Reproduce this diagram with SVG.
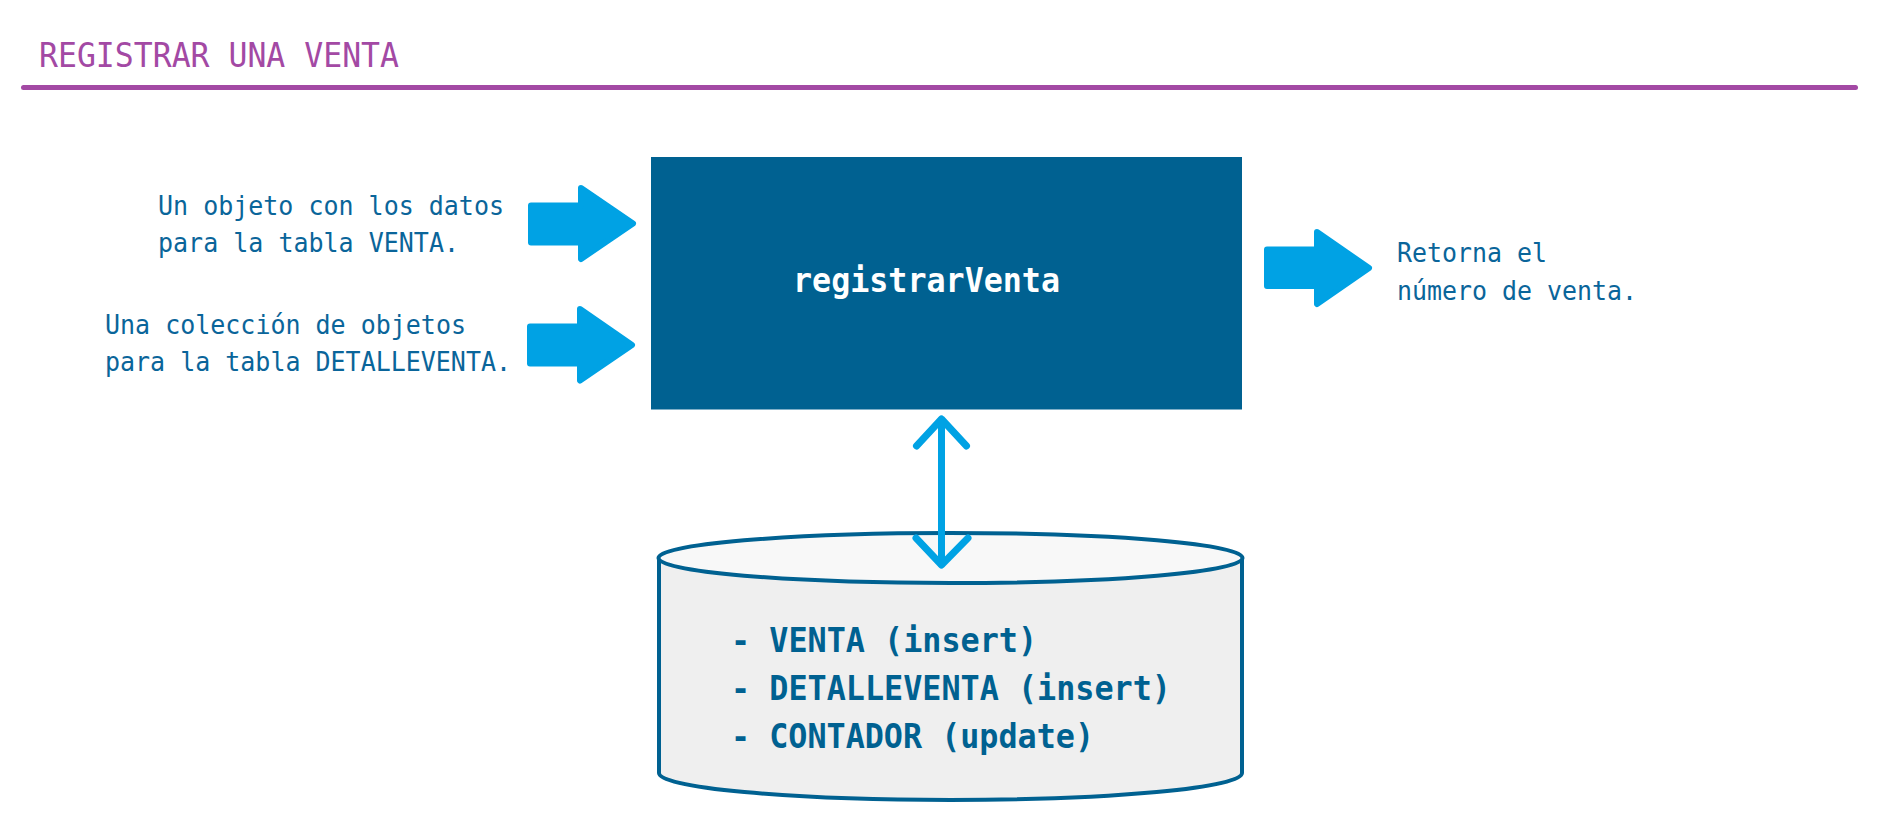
<svg xmlns="http://www.w3.org/2000/svg" width="1893" height="831" viewBox="0 0 1893 831">
<style>
.title{font-family:"DejaVu Sans Mono","Liberation Mono",monospace;font-size:34px;fill:#A349A4}
.lbl{font-family:"DejaVu Sans Mono","Liberation Mono",monospace;font-size:26px;fill:#0A659A}
.proc{font-family:"DejaVu Sans Mono","Liberation Mono",monospace;font-size:34px;font-weight:bold;fill:#ffffff}
.db{font-family:"DejaVu Sans Mono","Liberation Mono",monospace;font-size:34px;font-weight:bold;fill:#006191}
.blk{fill:#00A2E4;stroke:#00A2E4;stroke-width:6;stroke-linejoin:round}
.dbl{fill:none;stroke:#00A2E4;stroke-width:7;stroke-linecap:round;stroke-linejoin:round}
</style>
<rect width="1893" height="831" fill="#ffffff"/>
<g id="title">
<text class="title" x="39" y="66.5" textLength="360" lengthAdjust="spacingAndGlyphs">REGISTRAR UNA VENTA</text>
<line x1="23.5" y1="87.5" x2="1855.5" y2="87.5" stroke="#A349A4" stroke-width="5" stroke-linecap="round"/>
</g>
<g id="input1">
<text class="lbl" x="158" y="214.5" textLength="346" lengthAdjust="spacingAndGlyphs">Un objeto con los datos</text>
<text class="lbl" x="158" y="252" textLength="301" lengthAdjust="spacingAndGlyphs">para la tabla VENTA.</text>
</g>
<g id="input2">
<text class="lbl" x="105" y="333.5" textLength="361" lengthAdjust="spacingAndGlyphs">Una colección de objetos</text>
<text class="lbl" x="105" y="370.5" textLength="406" lengthAdjust="spacingAndGlyphs">para la tabla DETALLEVENTA.</text>
</g>
<g id="registrarVenta">
<rect x="651" y="157" width="591" height="252.5" fill="#006191"/>
<text class="proc" x="793" y="291.5" textLength="267" lengthAdjust="spacingAndGlyphs">registrarVenta</text>
</g>
<g id="output">
<text class="lbl" x="1397" y="262" textLength="150" lengthAdjust="spacingAndGlyphs">Retorna el</text>
<text class="lbl" x="1397" y="300" textLength="240" lengthAdjust="spacingAndGlyphs">número de venta.</text>
</g>
<g id="database">
<path d="M659,558 L659,773 A291.5,27 0 0 0 1242,773 L1242,558 Z" fill="#EFEFEF" stroke="#006191" stroke-width="4"/>
<ellipse cx="950.5" cy="558" rx="292" ry="25" fill="#F8F8F8" stroke="#006191" stroke-width="4"/>
<text class="db" x="731" y="652" textLength="306" lengthAdjust="spacingAndGlyphs">- VENTA (insert)</text>
<text class="db" x="731" y="700" textLength="440" lengthAdjust="spacingAndGlyphs">- DETALLEVENTA (insert)</text>
<text class="db" x="731" y="748" textLength="363" lengthAdjust="spacingAndGlyphs">- CONTADOR (update)</text>
</g>
<g id="connectors">
<path class="blk" d="M531,205.5 L581,205.5 L581,188 L633,223.5 L581,259 L581,242.5 L531,242.5 Z"/>
<path class="blk" d="M530,326.5 L580,326.5 L580,309 L632,345 L580,380.5 L580,363.5 L530,363.5 Z"/>
<path class="blk" d="M1267,249.5 L1317,249.5 L1317,232 L1369,268 L1317,304 L1317,286 L1267,286 Z"/>
<line class="dbl" x1="941.5" y1="420" x2="941.5" y2="564"/>
<path class="dbl" d="M916.5,446 L941.5,419 L966.5,446"/>
<path class="dbl" d="M916,538 L941.5,565 L968,538"/>
</g>
</svg>
